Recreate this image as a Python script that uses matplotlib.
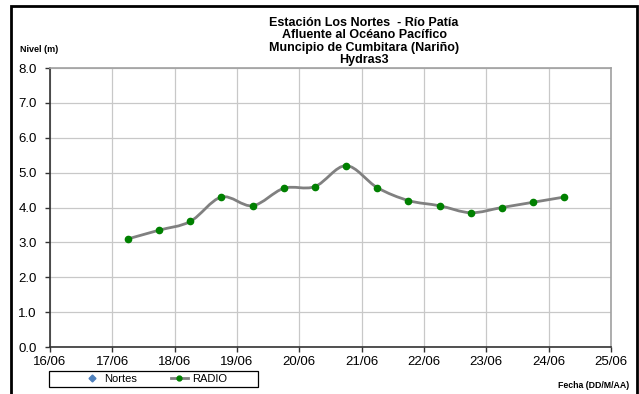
import numpy as np
import matplotlib
matplotlib.use("Agg")
import matplotlib.pyplot as plt
import matplotlib.dates as mdates
from matplotlib.path import Path
from matplotlib.patches import PathPatch, Rectangle
from matplotlib.lines import Line2D

plt.rcParams['font.family'] = ['Liberation Sans', 'DejaVu Sans']

# data (water level, m)
times = ['2013-06-17 06:00', '2013-06-17 18:00', '2013-06-18 06:00', '2013-06-18 18:00',
         '2013-06-19 06:00', '2013-06-19 18:00', '2013-06-20 06:00', '2013-06-20 18:00',
         '2013-06-21 06:00', '2013-06-21 18:00', '2013-06-22 06:00', '2013-06-22 18:00',
         '2013-06-23 06:00', '2013-06-23 18:00', '2013-06-24 06:00']
radio = [3.1, 3.35, 3.6, 4.3, 4.05, 4.55, 4.6, 5.2, 4.57, 4.2, 4.05, 3.85, 4.0, 4.15, 4.3]
tick_days = ['2013-06-16', '2013-06-17', '2013-06-18', '2013-06-19', '2013-06-20',
             '2013-06-21', '2013-06-22', '2013-06-23', '2013-06-24', '2013-06-25']
tick_labels = ['16/06', '17/06', '18/06', '19/06', '20/06', '21/06', '22/06', '23/06', '24/06', '25/06']
title_lines = ['Estación Los Nortes  - Río Patía', 'Afluente al Océano Pacífico',
               'Muncipio de Cumbitara (Nariño)', 'Hydras3']

x = np.array([mdates.datestr2num(t) for t in times])
y = np.array(radio)
xt = [mdates.datestr2num(t) for t in tick_days]


def smooth_path(x, y, k=1/6):
    # excel-like smoothed line: bezier segments through every point
    verts = [(x[0], y[0])]
    codes = [Path.MOVETO]
    n = len(x)
    for i in range(n - 1):
        x0, y0 = (x[i - 1], y[i - 1]) if i > 0 else (x[i], y[i])
        x3, y3 = (x[i + 2], y[i + 2]) if i + 2 < n else (x[i + 1], y[i + 1])
        c1 = (x[i] + (x[i + 1] - x0) * k, y[i] + (y[i + 1] - y0) * k)
        c2 = (x[i + 1] - (x3 - x[i]) * k, y[i + 1] - (y3 - y[i]) * k)
        verts += [c1, c2, (x[i + 1], y[i + 1])]
        codes += [Path.CURVE4] * 3
    return Path(verts, codes)


fig = plt.figure(figsize=(6.39, 3.94), dpi=100)
ax = fig.add_axes([50/639, 1 - 347/394, 561/639, 279/394])

ax.add_patch(PathPatch(smooth_path(x, y), fill=False, edgecolor='#808080', lw=2, zorder=3))
ax.plot(x, y, ls='none', marker='o', ms=4.5, color='#008000', zorder=4)

ax.set_xlim(xt[0], xt[-1])
ax.set_ylim(0, 8)
ax.set_xticks(xt)
ax.set_xticklabels(tick_labels)
ax.set_yticks(np.arange(0, 8.1, 1.0))
ax.set_yticklabels(['%.1f' % v for v in np.arange(0, 8.1, 1.0)])
ax.tick_params(direction='out', length=3.5, width=1, labelsize=9.5, color='#333333')
ax.tick_params(axis='x', pad=3)
ax.tick_params(axis='y', pad=6)
ax.grid(True, color='#c8c8c8', lw=0.9)
ax.set_axisbelow(True)
for s in ['left', 'bottom']:
    ax.spines[s].set_color('#333333')
    ax.spines[s].set_linewidth(1.2)
for s in ['top', 'right']:
    ax.spines[s].set_color('#a0a0a0')
    ax.spines[s].set_linewidth(1.2)

for i, line in enumerate(title_lines):
    fig.text(364/639, 1 - (22.5 + 12.6 * i)/394, line, ha='center', va='center',
             fontsize=9, fontweight='bold')
fig.text(20/639, 1 - 50/394, 'Nivel (m)', ha='left', va='center', fontsize=6.5, fontweight='bold')
fig.text(629/639, 1 - 385/394, 'Fecha (DD/M/AA)', ha='right', va='center', fontsize=6.3, fontweight='bold')

# legend box
fig.patches.append(Rectangle((49/639, 1 - 387/394), 209/639, 16/394, transform=fig.transFigure,
                             fill=False, ec='black', lw=0.9))
handles = [Line2D([], [], ls='none', marker='D', ms=3.5, color='#4f81bd'),
           Line2D([], [], color='#808080', lw=2, marker='o', ms=3.5, mfc='#008000', mec='#008000')]
fig.legend(handles, ['Nortes', 'RADIO'], ncol=2, loc='center',
           bbox_to_anchor=(155/639, 1 - 379/394), fontsize=8, frameon=False,
           borderpad=0, handlelength=1.6, handletextpad=0.3, columnspacing=3.0)

fig.patches.append(Rectangle((11/639, -0.05), 626/639, 1.05 - 6/394, transform=fig.transFigure,
                             fill=False, ec='black', lw=2))

fig.savefig('out.png', dpi=100)
